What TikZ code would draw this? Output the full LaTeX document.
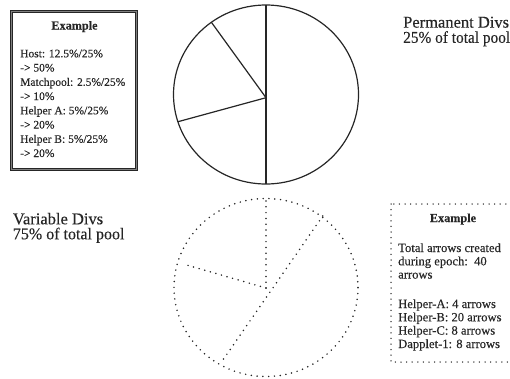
\documentclass[tikz,border=0pt]{standalone}
\usepackage{fontspec}
\setmainfont{Liberation Serif}[FakeBold=0.3]
\definecolor{ink}{HTML}{262626}
\begin{document}
\begin{tikzpicture}[x=1pt,y=-1pt,
  solidln/.style={draw=ink, line width=1.2pt},
  dotln/.style={draw=ink, line width=1.7pt, dash pattern=on 0pt off 5.8pt, line cap=round},
  boxtxt/.style={anchor=base west, inner sep=0pt, text=ink, font=\fontsize{11.5}{13}\selectfont},
  boxtxtr/.style={anchor=base west, inner sep=0pt, text=ink, font=\fontsize{12.6}{14}\selectfont},
  boxhead/.style={anchor=base, inner sep=0pt, text=ink, font=\fontsize{12.2}{14}\selectfont\bfseries},
  bigtxt/.style={anchor=base west, inner sep=0pt, text=ink, font=\fontsize{16.5}{18}\selectfont},
  framebox/.style={draw=ink, line width=0.9pt, double=black!50, double distance=0.7pt, inner sep=0pt}
]
\useasboundingbox (0,0) rectangle (510,378);
\clip (0,0) rectangle (510,378);

% ---------- left example box ----------
\node[framebox, anchor=north west, minimum width=125pt, minimum height=158pt] (leftbox) at (11,11) {};
\node[boxhead] (lhead) at (74.5,29.5) {Example};
\node[boxtxt] (l1) at (20,57.3) {Host: 12.5\%/25\%};
\node[boxtxt] (l2) at (20,71.5) {-> 50\%};
\node[boxtxt] (l3) at (20,85.8) {Matchpool: 2.5\%/25\%};
\node[boxtxt] (l4) at (20,100) {-> 10\%};
\node[boxtxt] (l5) at (20,114.3) {Helper A: 5\%/25\%};
\node[boxtxt] (l6) at (20,128.5) {-> 20\%};
\node[boxtxt] (l7) at (20,142.8) {Helper B: 5\%/25\%};
\node[boxtxt] (l8) at (20,157) {-> 20\%};

% ---------- top pie (permanent) ----------
\coordinate (pc) at (266,94.5);
\coordinate (pj) at (266,97.7);
\coordinate (ptop) at (266,5);
\coordinate (pbot) at (266,184);
\coordinate (pa) at (211.7,22.7);
\coordinate (pb) at (178,121.7);
\draw[solidln] (pc) ellipse [x radius=92.5pt, y radius=89.5pt];
\draw[solidln] (ptop) -- (pbot);
\draw[solidln] (pj) -- (pa);
\draw[solidln] (pj) -- (pb);

% ---------- top right label ----------
\node[bigtxt] (perm1) at (403,27.6) {Permanent Divs};
\node[bigtxt] (perm2) at (403,42.8) {\scalebox{0.93}[1]{25\% of total pool}};

% ---------- left label ----------
\node[bigtxt] (var1) at (12.7,224.3) {Variable Divs};
\node[bigtxt] (var2) at (12.7,239.3) {\scalebox{0.97}[1]{75\% of total pool}};

% ---------- bottom pie (variable) ----------
\coordinate (vc) at (266,287.5);
\coordinate (vj) at (266,288);
\coordinate (vtop) at (266,198.5);
\coordinate (va) at (186.7,265);
\coordinate (vd1) at (322.7,216);
\coordinate (vd2) at (221.7,361.7);
\draw[dotln] (vc) ellipse [x radius=92pt, y radius=89pt];
\draw[dotln] (vj) -- (vtop);
\draw[dotln] (vj) -- (va);
\draw[dotln] (vd1) -- (vd2);

% ---------- right example box ----------
\coordinate (rb1) at (391,204);
\coordinate (rb2) at (520,362);
\draw[dotln, line width=1.5pt, dash pattern=on 0pt off 5.6pt] (rb1) rectangle (rb2);
\node[boxhead] (rhead) at (453,222) {Example};
\node[boxtxtr] (r1) at (398,252) {Total arrows created};
\node[boxtxtr] (r2) at (398,265.3) {during epoch:\ \ 40};
\node[boxtxtr] (r3) at (398,278.6) {arrows};
\node[boxtxtr] (r4) at (398,308) {Helper-A: 4 arrows};
\node[boxtxtr] (r5) at (398,321.3) {Helper-B: 20 arrows};
\node[boxtxtr] (r6) at (398,334.6) {Helper-C: 8 arrows};
\node[boxtxtr] (r7) at (398,348) {Dapplet-1: 8 arrows};
\end{tikzpicture}
\end{document}
